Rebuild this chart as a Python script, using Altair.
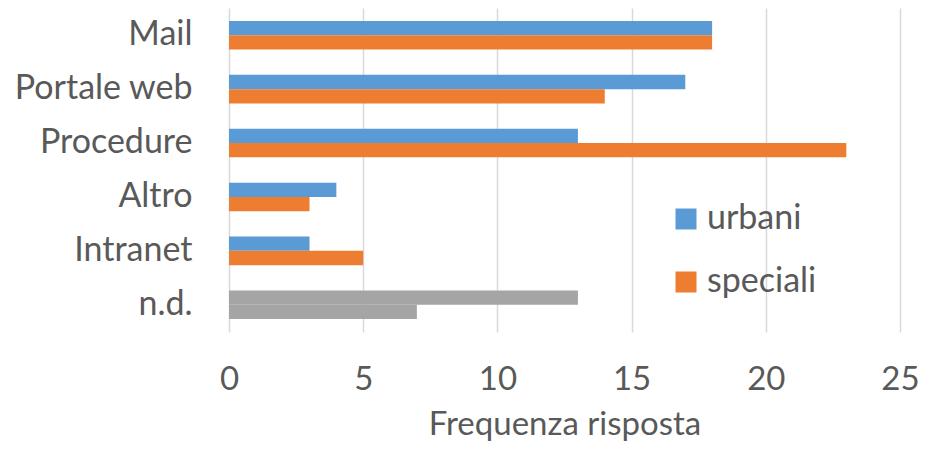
import altair as alt
import pandas as pd

categories = ["Mail", "Portale web", "Procedure", "Altro", "Intranet", "n.d."]
urbani = [18, 17, 13, 4, 3, 13]
speciali = [18, 14, 23, 3, 5, 7]

rows = []
for c, u, s in zip(categories, urbani, speciali):
    rows.append({"cat": c, "serie": "urbani", "val": u, "col": "nd" if c == "n.d." else "urbani"})
    rows.append({"cat": c, "serie": "speciali", "val": s, "col": "nd" if c == "n.d." else "speciali"})
df = pd.DataFrame(rows)

FONT = "Lato"
TXT = "#595959"
FS = 34

chart = alt.Chart(df).mark_bar().encode(
    y=alt.Y("cat:N", sort=categories,
            scale=alt.Scale(paddingInner=0.47, paddingOuter=0.24),
            axis=alt.Axis(title=None, domain=False, ticks=False, grid=False,
                          labelFont=FONT, labelFontSize=FS, labelColor=TXT,
                          labelPadding=37)),
    yOffset=alt.YOffset("serie:N", sort=["urbani", "speciali"]),
    x=alt.X("val:Q", scale=alt.Scale(domain=[0, 25]),
            axis=alt.Axis(title="Frequenza risposta", values=[0, 5, 10, 15, 20, 25],
                          domain=False, ticks=False, grid=True, labelFlush=False,
                          gridColor="#D9D9D9", gridWidth=1.5,
                          labelFont=FONT, labelFontSize=33, labelColor=TXT,
                          labelPadding=31, titleFont=FONT, titleFontSize=33,
                          titleColor=TXT, titleFontWeight="normal", titlePadding=12)),
    color=alt.Color("col:N",
                    scale=alt.Scale(domain=["urbani", "speciali", "nd"],
                                    range=["#5B9BD5", "#ED7D31", "#A5A5A5"]),
                    legend=alt.Legend(title=None, values=["urbani", "speciali"],
                                      orient="none", legendX=440, legendY=194,
                                      symbolType="square", symbolSize=441,
                                      symbolStrokeWidth=0,
                                      labelFont=FONT, labelFontSize=FS,
                                      labelColor=TXT, rowPadding=29,
                                      labelOffset=4)),
).properties(
    width=671, height=324,
    padding={"left": 221, "top": 0, "right": 20, "bottom": 110},
    autosize=alt.AutoSizeParams(type="none"),
).configure_view(stroke=None)

chart.save("out.html", embed_options={"renderer": "svg", "actions": False})
